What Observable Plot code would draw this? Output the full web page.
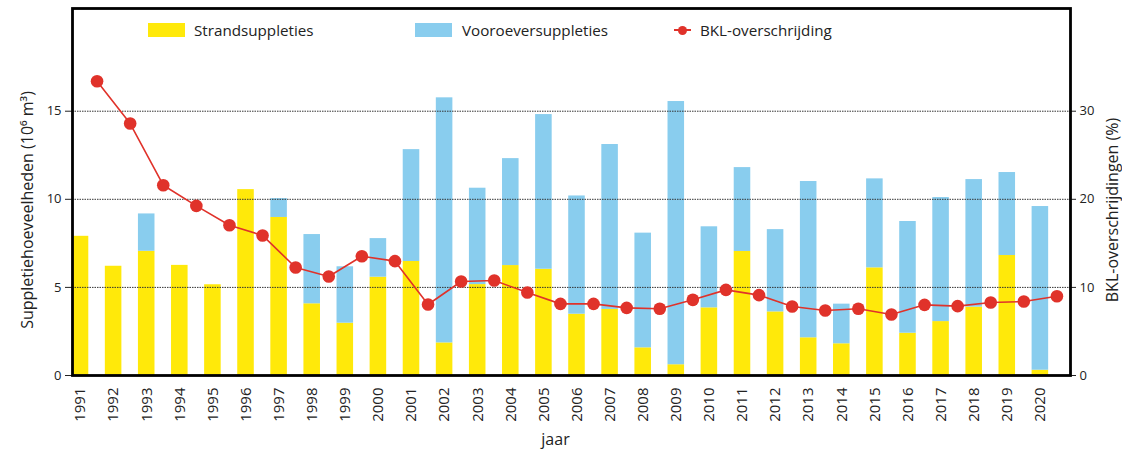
<!DOCTYPE html>
<html><head><meta charset="utf-8">
<script src="https://cdn.jsdelivr.net/npm/d3@7"></script>
<script src="https://cdn.jsdelivr.net/npm/@observablehq/plot@0.6"></script>
<style>
body{margin:0;background:#fff;font-family:"Open Sans",sans-serif;}
#wrap{position:relative;width:1122px;height:455px;overflow:hidden;}
.lg{position:absolute;font-size:15.2px;color:#222;line-height:1;white-space:nowrap;}
.sw{position:absolute;}
</style></head><body><div id="wrap"></div>
<script>
const years = [1991,1992,1993,1994,1995,1996,1997,1998,1999,2000,2001,2002,2003,2004,2005,2006,2007,2008,2009,2010,2011,2012,2013,2014,2015,2016,2017,2018,2019,2020];
const strandsuppleties = [7.9,6.2,7.05,6.25,5.15,10.55,8.97,4.07,2.97,5.58,6.47,1.85,5.16,6.24,6.03,3.48,3.75,1.57,0.61,3.84,7.04,3.61,2.14,1.80,6.11,2.40,3.06,3.88,6.81,0.30];
const vooroeversuppleties = [0,0,2.12,0,0,0,1.07,3.93,3.2,2.19,6.35,13.91,5.47,6.07,8.78,6.71,9.36,6.51,14.94,4.6,4.76,4.67,8.87,2.25,5.05,6.34,7.04,7.24,4.71,9.29];
const bklOverschrijding = [33.4,28.6,21.6,19.25,17.06,15.9,12.26,11.24,13.54,12.98,8.06,10.67,10.78,9.42,8.13,8.13,7.68,7.57,8.59,9.72,9.12,7.83,7.38,7.57,6.92,8.02,7.87,8.28,8.4,9.0];
const leftTicks = [0,5,10,15];
const gridTicks = [5,10,15];

const YELLOW = "#ffe90a", BLUE = "#89cdee", RED = "#e0322a";
const rows = years.map((year,i)=>({year, strand: strandsuppleties[i], voor: vooroeversuppleties[i], bkl: bklOverschrijding[i]}));

const chart = Plot.plot({
  width: 1122, height: 455,
  marginLeft: 72, marginRight: 52, marginTop: 8, marginBottom: 80,
  style: {fontFamily: "Open Sans", fontSize: "13px", color: "#222", background: "white", overflow: "visible"},
  x: {type: "linear", domain: [1990.758, 2020.91]},
  y: {domain: [0, 20.83]},
  marks: [
    Plot.rect(rows, {x1: d=>d.year-0.25, x2: d=>d.year+0.25, y1: 0, y2: "strand", fill: YELLOW}),
    Plot.rect(rows, {x1: d=>d.year-0.25, x2: d=>d.year+0.25, y1: "strand", y2: d=>d.strand+d.voor, fill: BLUE}),
    Plot.ruleY(gridTicks, {stroke: "#333", strokeDasharray: "1.5,1", strokeWidth: 1}),
    Plot.line(rows, {x: d=>d.year+0.5, y: d=>d.bkl/2, stroke: RED, strokeWidth: 1.6}),
    Plot.dot(rows, {x: d=>d.year+0.5, y: d=>d.bkl/2, r: 6.3, fill: RED}),
    Plot.axisX({ticks: years, tickFormat: d=>String(d), tickSize: 0, tickRotate: -90, tickPadding: 12, fontSize: 15, label: null}),
    Plot.axisY({ticks: leftTicks, tickSize: 7, tickPadding: 4, label: null, fontSize: 13}),
    Plot.axisY({anchor: "right", ticks: leftTicks, tickFormat: d=>String(d*2), tickSize: 5, tickPadding: 4, label: null, fontSize: 13}),
    Plot.frame({stroke: "black", strokeWidth: 2.8}),
    Plot.text(["jaar"], {text: d=>d, frameAnchor: "bottom", dx: -16, dy: 69, fontSize: 16}),
    Plot.text(["Suppletiehoeveelheden (10\u2076 m\u00b3)"], {text: d=>d, frameAnchor: "left", textAnchor: "middle", lineAnchor: "middle", rotate: -90, dx: -45, dy: 18, fontSize: 16}),
    Plot.text(["BKL-overschrijdingen (%)"], {text: d=>d, frameAnchor: "right", textAnchor: "middle", lineAnchor: "middle", rotate: -90, dx: 42, dy: 18, fontSize: 16})
  ]
});
const wrap = document.getElementById("wrap");
wrap.appendChild(chart);

const legend = [
  {label: "Strandsuppleties", type: "rect", color: YELLOW, sx: 148, tx: 194},
  {label: "Vooroeversuppleties", type: "rect", color: BLUE, sx: 415, tx: 462},
  {label: "BKL-overschrijding", type: "line", color: RED, sx: 674, tx: 700}
];
for (const l of legend) {
  if (l.type === "rect") {
    const s = document.createElement("div");
    s.className = "sw";
    Object.assign(s.style, {left: l.sx+"px", top: "23px", width: "37px", height: "14px", background: l.color});
    wrap.appendChild(s);
  } else {
    const s = document.createElement("div");
    s.className = "sw";
    Object.assign(s.style, {left: l.sx+"px", top: "29px", width: "17px", height: "2px", background: l.color});
    wrap.appendChild(s);
    const c = document.createElement("div");
    c.className = "sw";
    Object.assign(c.style, {left: (l.sx+4)+"px", top: "26px", width: "9px", height: "9px", borderRadius: "50%", background: l.color});
    wrap.appendChild(c);
  }
  const t = document.createElement("div");
  t.className = "lg";
  t.textContent = l.label;
  Object.assign(t.style, {left: l.tx+"px", top: "23px"});
  wrap.appendChild(t);
}
</script>
</body></html>
